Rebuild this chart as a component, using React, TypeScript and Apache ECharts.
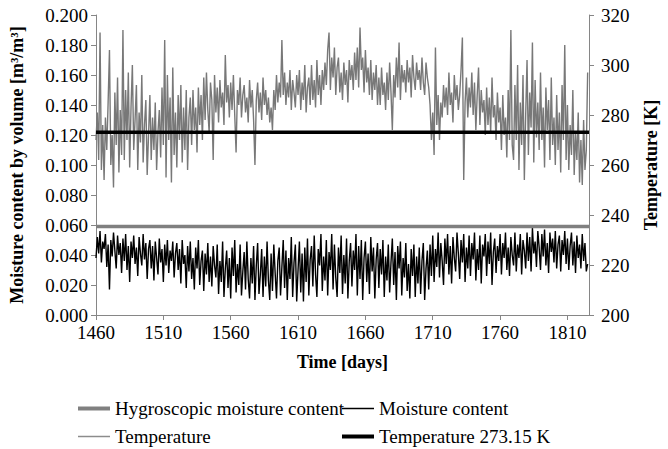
import React, { useEffect, useRef } from "react";
import * as echarts from "echarts";

const START_DAY = 1460;
const END_DAY = 1826;
const xTickValues = [1460, 1510, 1560, 1610, 1660, 1710, 1760, 1810];

// Temperature [K], one value per day from day 1460 to 1825
const temperature = [
  270, 281, 262, 313, 258, 276, 254, 279, 266, 285,
  306, 260, 272, 251, 289, 268, 295, 257, 282, 264,
  314, 262, 290, 270, 297, 259, 283, 300, 266, 278,
  292, 258, 281, 269, 296, 261, 276, 286, 256, 272,
  288, 262, 279, 266, 285, 258, 273, 282, 263, 291,
  268, 310, 255, 296, 270, 287, 253, 299, 264, 281,
  259, 288, 270, 292, 261, 283, 266, 290, 258, 279,
  287, 268, 290, 274, 283, 265, 291, 276, 288, 270,
  295, 278, 297, 282, 273, 293, 286, 262, 296, 281,
  291, 277, 294, 283, 289, 276, 304, 285, 292, 279,
  293, 282, 296, 280, 265, 290, 284, 295, 279, 288,
  292, 281, 287, 277, 294, 283, 290, 278, 260, 286,
  293, 281, 289, 278, 295, 284, 290, 280, 287, 277,
  283, 274, 290, 282, 296, 285, 293, 287, 310, 288,
  297, 284, 293, 287, 298, 282, 294, 289, 283, 296,
  288, 298, 282, 293, 286, 300, 281, 291, 295, 284,
  300, 286, 294, 283, 302, 288, 296, 284, 298, 290,
  301, 292, 306, 313, 290, 303, 295, 307, 288, 299,
  303, 289, 297, 286, 301, 292, 298, 285, 302, 294,
  300, 290, 305, 294, 307, 291, 315, 298, 303, 289,
  306, 293, 299, 288, 302, 286, 297, 290, 300, 284,
  295, 284, 299, 288, 293, 282, 297, 286, 301, 289,
  274, 296, 287, 303, 291, 309, 286, 300, 293, 298,
  289, 302, 293, 299, 287, 304, 295, 290, 301, 294,
  298, 290, 303, 293, 288, 301, 295, 291, 284, 270,
  281, 264, 307, 276, 288, 270, 285, 279, 292, 283,
  291, 280, 297, 284, 289, 277, 296, 286, 292, 282,
  288, 298, 311, 254, 285, 295, 279, 291, 283, 297,
  280, 293, 274, 288, 299, 276, 290, 281, 286, 272,
  291, 276, 287, 273, 295, 279, 284, 270, 289, 277,
  283, 266, 288, 272, 279, 263, 290, 270, 314, 268,
  262, 292, 270, 300, 258, 285, 268, 296, 254, 280,
  302, 264, 289, 275, 309, 261, 294, 271, 285, 266,
  297, 270, 283, 259, 291, 274, 286, 262, 295, 268,
  279, 260, 288, 266, 281, 257, 292, 270, 308, 262,
  284, 258, 276, 264, 290, 256, 273, 262, 281, 253,
  270, 252, 278, 258, 266, 297,
];

// Moisture content by volume [m3/m3], one value per day from day 1460 to 1825
const moisture = [
  0.038, 0.052, 0.041, 0.056, 0.035, 0.049, 0.044, 0.054, 0.032, 0.047,
  0.017, 0.050, 0.039, 0.055, 0.043, 0.031, 0.053, 0.040, 0.048, 0.028,
  0.051, 0.036, 0.054, 0.030, 0.046, 0.022, 0.049, 0.038, 0.053, 0.034,
  0.045, 0.026, 0.052, 0.041, 0.033, 0.054, 0.037, 0.048, 0.024, 0.044,
  0.050, 0.031, 0.046, 0.023, 0.049, 0.038, 0.027, 0.051, 0.035, 0.044,
  0.022, 0.047, 0.033, 0.050, 0.028, 0.043, 0.036, 0.049, 0.025, 0.041,
  0.048, 0.030, 0.044, 0.021, 0.050, 0.034, 0.040, 0.018, 0.046, 0.029,
  0.049, 0.024, 0.038, 0.017, 0.045, 0.031, 0.050, 0.020, 0.036, 0.043,
  0.016, 0.041, 0.027, 0.048, 0.022, 0.039, 0.019, 0.046, 0.033, 0.025,
  0.047, 0.014, 0.036, 0.022, 0.049, 0.012, 0.031, 0.043, 0.018, 0.038,
  0.011, 0.045, 0.026, 0.050, 0.015, 0.034, 0.020, 0.047, 0.013, 0.029,
  0.042, 0.017, 0.049, 0.024, 0.011, 0.038, 0.021, 0.046, 0.010, 0.033,
  0.048, 0.014, 0.027, 0.044, 0.012, 0.039, 0.019, 0.049, 0.023, 0.010,
  0.041, 0.016, 0.047, 0.028, 0.011, 0.036, 0.045, 0.013, 0.032, 0.050,
  0.018, 0.043, 0.010, 0.038, 0.024, 0.052, 0.012, 0.035, 0.047, 0.009,
  0.030, 0.049, 0.015, 0.041, 0.009, 0.045, 0.022, 0.051, 0.013, 0.037,
  0.046, 0.019, 0.053, 0.027, 0.012, 0.044, 0.033, 0.054, 0.016, 0.039,
  0.023, 0.050, 0.013, 0.042, 0.030, 0.054, 0.017, 0.047, 0.025, 0.012,
  0.045, 0.028, 0.053, 0.014, 0.040, 0.021, 0.051, 0.011, 0.036, 0.048,
  0.019, 0.043, 0.030, 0.054, 0.013, 0.046, 0.024, 0.050, 0.010, 0.038,
  0.049, 0.022, 0.041, 0.014, 0.052, 0.029, 0.045, 0.011, 0.037, 0.048,
  0.018, 0.044, 0.027, 0.050, 0.012, 0.039, 0.023, 0.047, 0.015, 0.035,
  0.051, 0.020, 0.042, 0.010, 0.046, 0.031, 0.049, 0.013, 0.038, 0.025,
  0.048, 0.016, 0.034, 0.011, 0.044, 0.026, 0.047, 0.012, 0.039, 0.021,
  0.045, 0.014, 0.036, 0.048, 0.010, 0.031, 0.043, 0.017, 0.047, 0.026,
  0.053, 0.022, 0.044, 0.032, 0.055, 0.025, 0.048, 0.036, 0.020, 0.051,
  0.034, 0.054, 0.027, 0.046, 0.021, 0.052, 0.038, 0.029, 0.055, 0.041,
  0.024, 0.050, 0.035, 0.054, 0.022, 0.045, 0.031, 0.053, 0.026, 0.048,
  0.037, 0.055, 0.023, 0.044, 0.030, 0.053, 0.021, 0.047, 0.039, 0.054,
  0.026, 0.049, 0.034, 0.055, 0.020, 0.042, 0.051, 0.028, 0.046, 0.036,
  0.054, 0.027, 0.048, 0.038, 0.055, 0.030, 0.045, 0.026, 0.052, 0.040,
  0.033, 0.055, 0.029, 0.047, 0.038, 0.054, 0.027, 0.050, 0.043, 0.031,
  0.055, 0.036, 0.052, 0.029, 0.058, 0.041, 0.049, 0.032, 0.056, 0.045,
  0.030, 0.054, 0.039, 0.057, 0.033, 0.048, 0.028, 0.055, 0.042, 0.051,
  0.035, 0.056, 0.031, 0.047, 0.053, 0.029, 0.050, 0.040, 0.056, 0.034,
  0.051, 0.030, 0.046, 0.055, 0.033, 0.049, 0.028, 0.053, 0.038, 0.047,
  0.031, 0.054, 0.036, 0.048, 0.029, 0.034,
];

const hygroscopicMoisture = 0.059;
const freezingTemperature = 273.15;

const FONT = "Liberation Serif";
const AXIS_GREY = "#868686";

export default function App() {
  const ref = useRef<HTMLDivElement>(null);

  useEffect(() => {
    document.body.style.margin = "0";
    if (!ref.current) return;
    const chart = echarts.init(ref.current, null, { renderer: "svg" });

    const tempData = temperature.map((v, i) => [START_DAY + i, v]);
    const moistData = moisture.map((v, i) => [START_DAY + i, v]);

    const tickLabelStyle = { color: "#000", fontFamily: FONT, fontSize: 19 };
    const titleStyle = { color: "#000", fontFamily: FONT, fontSize: 18, fontWeight: "bold" as const };
    const legendText = { color: "#000", fontFamily: FONT, fontSize: 19 };

    const legendBase = {
      icon: "rect",
      itemWidth: 32,
      itemGap: 0,
      padding: 0,
      textStyle: legendText,
    };

    chart.setOption({
      animation: false,
      backgroundColor: "#fff",
      textStyle: { fontFamily: FONT },
      grid: { left: 90, right: 68, top: 15, bottom: 134, containLabel: false },
      xAxis: {
        type: "value",
        min: START_DAY,
        max: END_DAY,
        interval: 50,
        name: "Time [days]",
        nameLocation: "middle",
        nameGap: 38,
        nameTextStyle: titleStyle,
        axisLine: { show: true, lineStyle: { color: AXIS_GREY, width: 1 } },
        axisTick: { show: true, length: 5, lineStyle: { color: AXIS_GREY }, customValues: xTickValues },
        axisLabel: {
          ...tickLabelStyle,
          margin: 8,
          customValues: xTickValues,
          formatter: (v: number) => String(v),
        },
        splitLine: { show: false },
      },
      yAxis: [
        {
          type: "value",
          min: 0,
          max: 0.2,
          interval: 0.02,
          name: "Moisture content by volume [m³/m³]",
          nameLocation: "middle",
          nameGap: 70,
          nameTextStyle: titleStyle,
          axisLine: { show: true, lineStyle: { color: AXIS_GREY, width: 1 } },
          axisTick: { show: true, length: 5, lineStyle: { color: AXIS_GREY } },
          axisLabel: { ...tickLabelStyle, margin: 8, formatter: (v: number) => v.toFixed(3) },
          splitLine: { show: false },
        },
        {
          type: "value",
          min: 200,
          max: 320,
          interval: 20,
          name: "Temperature [K]",
          nameLocation: "middle",
          nameGap: 53,
          nameTextStyle: titleStyle,
          axisLine: { show: true, lineStyle: { color: AXIS_GREY, width: 1 } },
          axisTick: { show: true, length: 5, lineStyle: { color: AXIS_GREY } },
          axisLabel: { ...tickLabelStyle, margin: 12, formatter: (v: number) => String(v) },
          splitLine: { show: false },
        },
      ],
      legend: [
        { ...legendBase, data: ["Hygroscopic moisture content"], left: 78, top: 399, itemHeight: 4 },
        { ...legendBase, data: ["Moisture content"], left: 342, top: 399, itemHeight: 1.5 },
        { ...legendBase, data: ["Temperature"], left: 78, top: 427, itemHeight: 1.5 },
        { ...legendBase, data: ["Temperature 273.15 K"], left: 342, top: 427, itemHeight: 4 },
      ],
      series: [
        {
          name: "Hygroscopic moisture content",
          type: "line",
          yAxisIndex: 0,
          data: [[START_DAY, hygroscopicMoisture], [END_DAY, hygroscopicMoisture]],
          symbol: "none",
          lineStyle: { color: "#808080", width: 3.5 },
          itemStyle: { color: "#808080" },
          z: 3,
        },
        {
          name: "Moisture content",
          type: "line",
          yAxisIndex: 0,
          data: moistData,
          symbol: "none",
          lineStyle: { color: "#000", width: 1.4 },
          itemStyle: { color: "#000" },
          z: 2,
        },
        {
          name: "Temperature",
          type: "line",
          yAxisIndex: 1,
          data: tempData,
          symbol: "none",
          lineStyle: { color: "#787878", width: 1.4 },
          itemStyle: { color: "#8c8c8c" },
          z: 2,
        },
        {
          name: "Temperature 273.15 K",
          type: "line",
          yAxisIndex: 1,
          data: [[START_DAY, freezingTemperature], [END_DAY, freezingTemperature]],
          symbol: "none",
          lineStyle: { color: "#000", width: 3.5 },
          itemStyle: { color: "#000" },
          z: 4,
        },
      ],
    });

    return () => chart.dispose();
  }, []);

  return <div ref={ref} style={{ width: 668, height: 449 }} />;
}
